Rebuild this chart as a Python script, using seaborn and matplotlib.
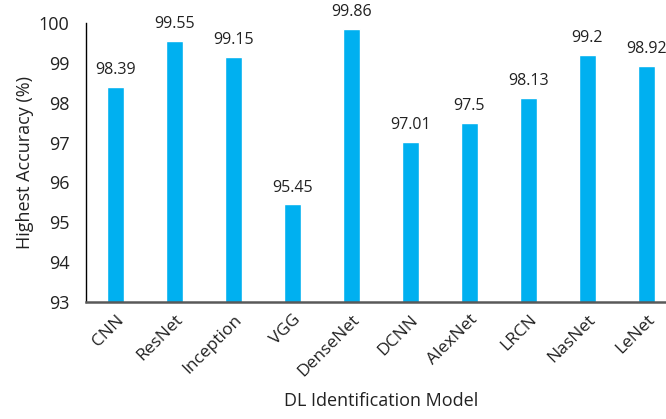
import matplotlib
matplotlib.use('Agg')
import matplotlib.pyplot as plt
import seaborn as sns
import pandas as pd

sns.set_theme(style='white')
plt.rcParams['font.family'] = ['Open Sans', 'DejaVu Sans']

# Highest accuracy reported per DL identification model
models = ['CNN', 'ResNet', 'Inception', 'VGG', 'DenseNet',
          'DCNN', 'AlexNet', 'LRCN', 'NasNet', 'LeNet']
accuracy = [98.39, 99.55, 99.15, 95.45, 99.86, 97.01, 97.5, 98.13, 99.2, 98.92]
value_labels = ['98.39', '99.55', '99.15', '95.45', '99.86',
                '97.01', '97.5', '98.13', '99.2', '98.92']

df = pd.DataFrame({'Model': models, 'Accuracy': accuracy})

fig = plt.figure(figsize=(6.66, 4.19), dpi=100)
fig.patch.set_facecolor('white')
# axes runs past the right edge, like the cropped original
ax = fig.add_axes([86 / 666, (419 - 302) / 419, 590 / 666, 279 / 419])

sns.barplot(data=df, x='Model', y='Accuracy', color='#00B0F0',
            width=0.305, saturation=1, ax=ax)

ax.set_ylim(93, 100)
ax.set_yticks(range(93, 101))
ax.tick_params(axis='y', labelsize=13, length=0, pad=12, colors='#222222')
ax.tick_params(axis='x', labelsize=12.5, length=0, pad=7, colors='#222222')
plt.setp(ax.get_xticklabels(), rotation=45, ha='right', rotation_mode='anchor')

for i, (v, lab) in enumerate(zip(accuracy, value_labels)):
    ax.text(i, v + 0.22, lab, ha='center', va='bottom', fontsize=11.5, color='#222222')

ax.set_xlabel('DL Identification Model', fontsize=13, color='#222222', labelpad=9)
ax.set_ylabel('Highest Accuracy (%)', fontsize=13, color='#222222', labelpad=3)

ax.spines['top'].set_visible(False)
ax.spines['right'].set_visible(False)
ax.spines['left'].set_color('black')
ax.spines['left'].set_linewidth(1.0)
ax.spines['bottom'].set_color('#595959')
ax.spines['bottom'].set_linewidth(1.8)

fig.savefig('out.png', dpi=100, facecolor='white')
plt.close(fig)
